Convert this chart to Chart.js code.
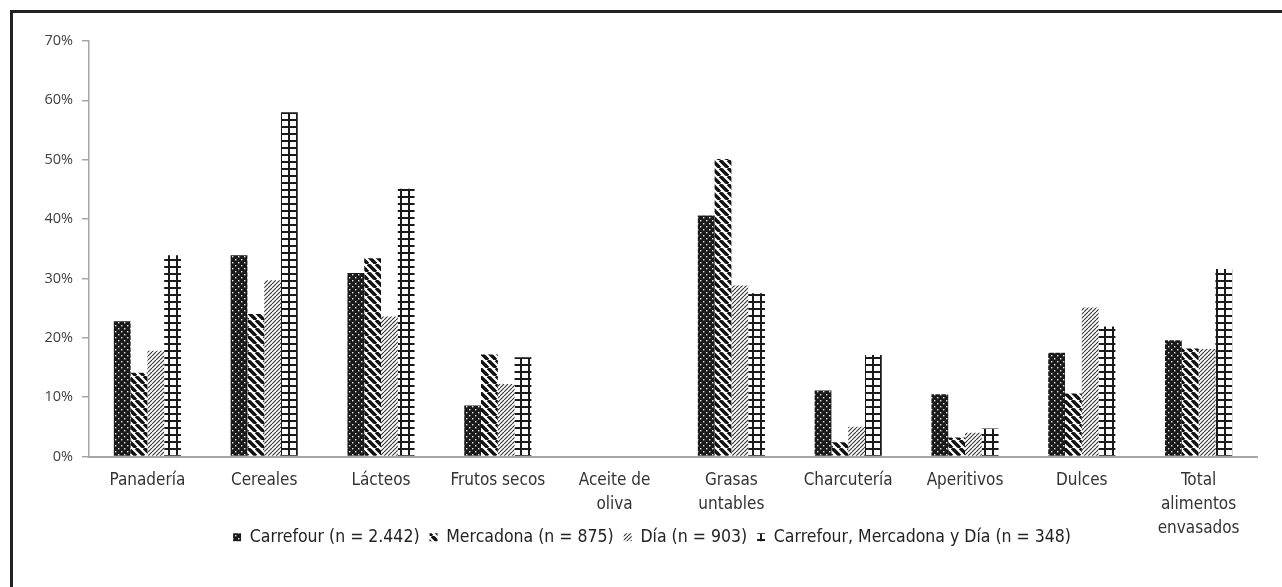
<!DOCTYPE html>
<html>
<head>
<meta charset="utf-8">
<script src="https://cdn.jsdelivr.net/npm/chart.js@4"></script>
<style>
  html, body { margin: 0; padding: 0; background: #fff; overflow: hidden; }
  #frame { position: absolute; left: 10px; top: 10px; width: 1300px; height: 600px;
           border-left: 3px solid #222; border-top: 3px solid #222; }
  #wrap { position: absolute; left: 0; top: 0; width: 1282px; height: 587px; }
</style>
</head>
<body>
<div id="frame"></div>
<div id="wrap"><canvas id="chart" width="1282" height="587"></canvas></div>
<script>
// ==================== DATA ====================
const categories = ['Panadería', 'Cereales', 'Lácteos', 'Frutos secos', ['Aceite de', 'oliva'],
  ['Grasas', 'untables'], 'Charcutería', 'Aperitivos', 'Dulces', ['Total', 'alimentos', 'envasados']];
const seriesNames = ['Carrefour (n = 2.442)', 'Mercadona (n = 875)', 'Día (n = 903)',
  'Carrefour, Mercadona y Día (n = 348)'];
const carrefour = [22.8, 33.9, 30.9, 8.6, 0, 40.6, 11.1, 10.5, 17.5, 19.6];
const mercadona = [14.1, 24.0, 33.4, 17.2, 0, 50.1, 2.4, 3.2, 10.6, 18.2];
const dia       = [17.8, 29.7, 23.6, 12.2, 0, 28.8, 5.0, 4.0, 25.1, 18.1];
const todos     = [33.9, 58.0, 45.1, 16.7, 0, 27.5, 17.1, 4.7, 21.9, 31.6];
const yTicks = [0, 10, 20, 30, 40, 50, 60, 70];

// ==================== PATTERNS ====================
function tile(w, h, draw) {
  const c = document.createElement('canvas');
  c.width = w; c.height = h;
  const g = c.getContext('2d');
  draw(g, w, h);
  return g.createPattern(c, 'repeat');
}
const ctx = document.getElementById('chart').getContext('2d');

const dots = tile(6, 6, (g, w, h) => {
  g.fillStyle = '#1a1a1a'; g.fillRect(0, 0, w, h);
  g.fillStyle = '#e8e8e8';
  g.fillRect(1, 1, 1.4, 1.4);
  g.fillRect(4, 4, 1.4, 1.4);
});
const wideStripes = tile(8, 8, (g, w, h) => {
  g.fillStyle = '#fff'; g.fillRect(0, 0, w, h);
  g.strokeStyle = '#111'; g.lineWidth = 3.4;
  for (const o of [-8, 0, 8]) {
    g.beginPath(); g.moveTo(o, 0); g.lineTo(o + 8, 8); g.stroke();
  }
});
const fineStripes = tile(4, 4, (g, w, h) => {
  g.fillStyle = '#fff'; g.fillRect(0, 0, w, h);
  g.strokeStyle = '#333'; g.lineWidth = 1.1;
  for (const o of [-4, 0, 4]) {
    g.beginPath(); g.moveTo(o, 4); g.lineTo(o + 4, 0); g.stroke();
  }
});
const grid = tile(8, 7, (g, w, h) => {
  g.fillStyle = '#fff'; g.fillRect(0, 0, w, h);
  g.fillStyle = '#1a1a1a';
  g.fillRect(0, 0, w, 2);
  g.fillRect(0, 0, 2, h);
});

// ==================== CHART ====================
const narrow = "'Liberation Sans Narrow', 'DejaVu Sans Condensed', 'Liberation Sans', sans-serif";
const fills = [dots, wideStripes, fineStripes, grid];
const values = [carrefour, mercadona, dia, todos];
// labels may spill outside their scale box, as in the original
const noClip = s => { s._computeLabelArea = () => undefined; };

new Chart(ctx, {
  type: 'bar',
  data: {
    labels: categories,
    datasets: values.map((v, i) => ({
      label: seriesNames[i],
      data: v,
      backgroundColor: fills[i],
      borderWidth: 0,
      categoryPercentage: 0.575,
      barPercentage: 1.0
    }))
  },
  options: {
    responsive: false,
    animation: false,
    layout: { padding: { top: 41, right: 25, bottom: 31, left: 47 } },
    plugins: {
      tooltip: { enabled: false },
      legend: {
        position: 'bottom',
        labels: {
          boxWidth: 8, boxHeight: 8, padding: 10,
          color: '#222',
          font: { family: narrow, size: 17.5 }
        }
      }
    },
    scales: {
      x: {
        grid: { display: false, drawTicks: false },
        border: { color: '#a6a6a6', width: 2 },
        ticks: { color: '#333', padding: 12, maxRotation: 0, autoSkip: false,
                 font: { family: narrow, size: 17, lineHeight: 1.41 } },
        afterFit: s => { s.height = 62; noClip(s); }
      },
      y: {
        min: 0, max: 70,
        afterBuildTicks: s => { s.ticks = yTicks.map(v => ({ value: v })); },
        grid: { drawOnChartArea: false, drawTicks: true, tickLength: 7, color: '#a6a6a6', lineWidth: 1.5 },
        border: { color: '#a6a6a6', width: 1.5 },
        ticks: { color: '#404040', padding: 9, callback: v => v + '%',
                 font: { family: "'Open Sans', 'Noto Sans', sans-serif", size: 14.5 } },
        afterFit: s => { s.width = 42; noClip(s); }
      }
    }
  }
});
</script>
</body>
</html>
